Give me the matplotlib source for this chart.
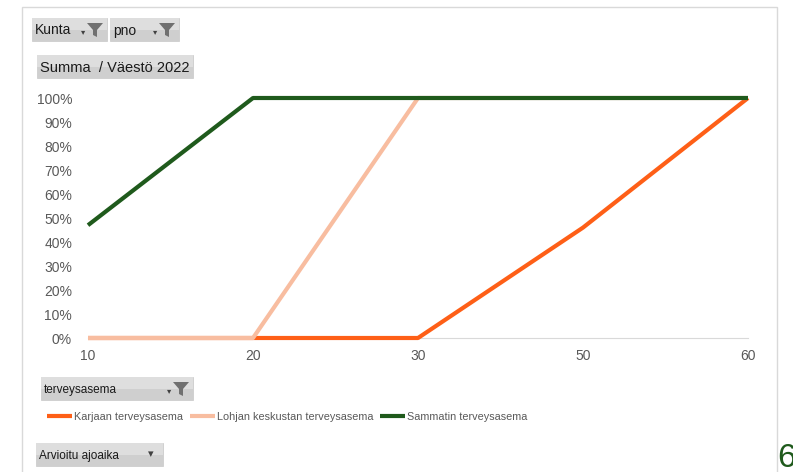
import matplotlib.pyplot as plt
from matplotlib.patches import Rectangle, Polygon
import numpy as np

# Arvioitu ajoaika (min) -> kumulatiivinen osuus väestöstä
ajoaika = ['10', '20', '30', '50', '60']
karjaa = [0.0, 0.0, 0.0, 0.46, 1.0]
lohja = [0.0, 0.0, 1.0, 1.0, 1.0]
sammatti = [0.47, 1.0, 1.0, 1.0, 1.0]
sarjat = ['Karjaan terveysasema', 'Lohjan keskustan terveysasema', 'Sammatin terveysasema']
varit = ['#fe5f17', '#f8bda0', '#1f5a1c']
y_ticks = np.arange(0, 1.01, 0.1)

W, H = 793, 472
plt.rcParams['font.family'] = ['Liberation Sans', 'DejaVu Sans']
fig = plt.figure(figsize=(W / 100, H / 100), dpi=100)


def px(x, y):
    # pikselit (ylävasen) -> kuvan koordinaatit
    return x / W, 1 - y / H


# kaavion reunus
fig.patches.append(Rectangle(px(22, 480), 755 / W, 473 / H, transform=fig.transFigure,
                             fill=False, edgecolor='#d9d9d9', lw=1))

ax = fig.add_axes([88 / W, 1 - 338 / H, 660 / W, 240 / H])
x = np.arange(len(ajoaika))
for arvot, nimi, vari in zip([karjaa, lohja, sammatti], sarjat, varit):
    ax.plot(x, arvot, color=vari, lw=3, label=nimi, clip_on=False, solid_capstyle='butt')

ax.set_xlim(0, len(ajoaika) - 1)
ax.set_ylim(0, 1)
ax.set_xticks(x)
ax.set_xticklabels(ajoaika)
ax.set_yticks(y_ticks)
ax.set_yticklabels([f'{int(round(v * 100))}%' for v in y_ticks])
ax.tick_params(length=0, labelsize=10, labelcolor='#595959')
ax.tick_params(axis='y', pad=11.5)
ax.tick_params(axis='x', pad=8)
for s in ['top', 'right', 'left']:
    ax.spines[s].set_visible(False)
ax.spines['bottom'].set_color('#d9d9d9')
ax.spines['bottom'].set_zorder(0)


def nappi(x0, y0, x1, y1, teksti, koko, suodatin=True, nuoli=True):
    fig.patches.append(Rectangle(px(x0, y1), (x1 - x0) / W, (y1 - y0) / H,
                                 transform=fig.transFigure, facecolor='#cfcfcf',
                                 edgecolor='#c8c8c8', lw=0.5))
    fig.patches.append(Rectangle(px(x0, (y0 + y1) / 2), (x1 - x0) / W, (y1 - y0) / 2 / H,
                                 transform=fig.transFigure, facecolor='#dedede',
                                 edgecolor='none'))
    fig.text(*px(x0 + 3, (y0 + y1) / 2 + 1), teksti, fontsize=koko, color='#1a1a1a',
             va='center', ha='left')
    if suodatin:
        cx = x1 - 12
        pts = [(cx - 8, y0 + 5), (cx + 8, y0 + 5), (cx + 2, y0 + 12), (cx + 2, y1 - 4),
               (cx - 2, y1 - 6), (cx - 2, y0 + 12)]
        fig.patches.append(Polygon([px(a, b) for a, b in pts], closed=True,
                                   transform=fig.transFigure, facecolor='#707070',
                                   edgecolor='none'))
        fig.text(*px(cx - 12, (y0 + y1) / 2 + 2), '▾', fontsize=6, color='#404040',
                 va='center', ha='center', family='DejaVu Sans')
    elif nuoli:
        fig.text(*px(x1 - 12, (y0 + y1) / 2), '▾', fontsize=8, color='#404040',
                 va='center', ha='center', family='DejaVu Sans')


nappi(32, 18, 107, 41, 'Kunta', 10)
nappi(110, 18, 179, 41, 'pno', 10)
nappi(37, 55, 193, 78, 'Summa  / Väestö 2022', 10.5, suodatin=False, nuoli=False)
nappi(41, 377, 193, 400, 'terveysasema', 8.5)
nappi(36, 443, 163, 466, 'Arvioitu ajoaika', 8.5, suodatin=False)

fig.legend(loc='center left', bbox_to_anchor=px(47, 417), ncol=3, frameon=False,
           fontsize=7.8, labelcolor='#595959',
           handlelength=2.3, handletextpad=0.2, columnspacing=0.6,
           borderaxespad=0, borderpad=0)

fig.text(*px(777, 443), '6', fontsize=24, color='#1f5a1c', va='top', ha='left')

fig.savefig('out.png', dpi=100)
